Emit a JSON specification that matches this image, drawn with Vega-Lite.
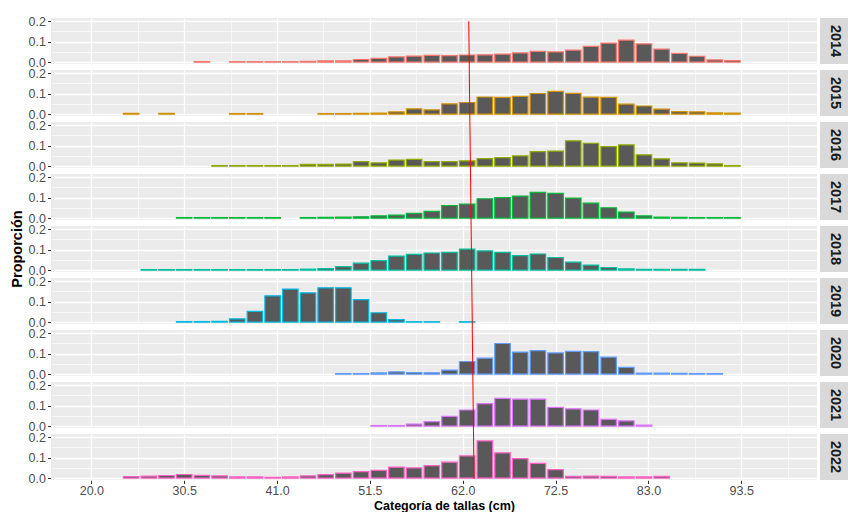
{
  "$schema": "https://vega.github.io/schema/vega-lite/v6.json",
  "background": "white",
  "padding": {"left": 3, "top": 15, "right": 0, "bottom": 0},
  "spacing": 3,
  "config": {"view": {"stroke": null}, "font": "Liberation Sans"},
  "data": {"values": [
    {"year":"2014","x":32.5,"p":0.003},{"year":"2014","x":36.5,"p":0.002},{"year":"2014","x":38.5,"p":0.002},{"year":"2014","x":40.5,"p":0.002},{"year":"2014","x":42.5,"p":0.002},{"year":"2014","x":44.5,"p":0.004},{"year":"2014","x":46.5,"p":0.006},{"year":"2014","x":48.5,"p":0.006},{"year":"2014","x":50.5,"p":0.013},{"year":"2014","x":52.5,"p":0.019},{"year":"2014","x":54.5,"p":0.026},{"year":"2014","x":56.5,"p":0.03},{"year":"2014","x":58.5,"p":0.033},{"year":"2014","x":60.5,"p":0.032},{"year":"2014","x":62.5,"p":0.035},{"year":"2014","x":64.5,"p":0.036},{"year":"2014","x":66.5,"p":0.039},{"year":"2014","x":68.5,"p":0.045},{"year":"2014","x":70.5,"p":0.053},{"year":"2014","x":72.5,"p":0.05},{"year":"2014","x":74.5,"p":0.059},{"year":"2014","x":76.5,"p":0.077},{"year":"2014","x":78.5,"p":0.093},{"year":"2014","x":80.5,"p":0.108},{"year":"2014","x":82.5,"p":0.089},{"year":"2014","x":84.5,"p":0.064},{"year":"2014","x":86.5,"p":0.043},{"year":"2014","x":88.5,"p":0.029},{"year":"2014","x":90.5,"p":0.011},{"year":"2014","x":92.5,"p":0.008},
    {"year":"2015","x":24.5,"p":0.004},{"year":"2015","x":28.5,"p":0.004},{"year":"2015","x":36.5,"p":0.003},{"year":"2015","x":38.5,"p":0.003},{"year":"2015","x":46.5,"p":0.003},{"year":"2015","x":48.5,"p":0.003},{"year":"2015","x":50.5,"p":0.004},{"year":"2015","x":52.5,"p":0.005},{"year":"2015","x":54.5,"p":0.011},{"year":"2015","x":56.5,"p":0.026},{"year":"2015","x":58.5,"p":0.021},{"year":"2015","x":60.5,"p":0.05},{"year":"2015","x":62.5,"p":0.057},{"year":"2015","x":64.5,"p":0.084},{"year":"2015","x":66.5,"p":0.082},{"year":"2015","x":68.5,"p":0.087},{"year":"2015","x":70.5,"p":0.101},{"year":"2015","x":72.5,"p":0.111},{"year":"2015","x":74.5,"p":0.102},{"year":"2015","x":76.5,"p":0.083},{"year":"2015","x":78.5,"p":0.082},{"year":"2015","x":80.5,"p":0.049},{"year":"2015","x":82.5,"p":0.04},{"year":"2015","x":84.5,"p":0.025},{"year":"2015","x":86.5,"p":0.012},{"year":"2015","x":88.5,"p":0.011},{"year":"2015","x":90.5,"p":0.006},{"year":"2015","x":92.5,"p":0.005},
    {"year":"2016","x":34.5,"p":0.003},{"year":"2016","x":36.5,"p":0.003},{"year":"2016","x":38.5,"p":0.003},{"year":"2016","x":40.5,"p":0.003},{"year":"2016","x":42.5,"p":0.003},{"year":"2016","x":44.5,"p":0.009},{"year":"2016","x":46.5,"p":0.009},{"year":"2016","x":48.5,"p":0.01},{"year":"2016","x":50.5,"p":0.022},{"year":"2016","x":52.5,"p":0.016},{"year":"2016","x":54.5,"p":0.03},{"year":"2016","x":56.5,"p":0.033},{"year":"2016","x":58.5,"p":0.022},{"year":"2016","x":60.5,"p":0.022},{"year":"2016","x":62.5,"p":0.026},{"year":"2016","x":64.5,"p":0.037},{"year":"2016","x":66.5,"p":0.042},{"year":"2016","x":68.5,"p":0.05},{"year":"2016","x":70.5,"p":0.071},{"year":"2016","x":72.5,"p":0.074},{"year":"2016","x":74.5,"p":0.124},{"year":"2016","x":76.5,"p":0.112},{"year":"2016","x":78.5,"p":0.096},{"year":"2016","x":80.5,"p":0.104},{"year":"2016","x":82.5,"p":0.055},{"year":"2016","x":84.5,"p":0.036},{"year":"2016","x":86.5,"p":0.016},{"year":"2016","x":88.5,"p":0.015},{"year":"2016","x":90.5,"p":0.011},{"year":"2016","x":92.5,"p":0.003},
    {"year":"2017","x":30.5,"p":0.003},{"year":"2017","x":32.5,"p":0.003},{"year":"2017","x":34.5,"p":0.003},{"year":"2017","x":36.5,"p":0.003},{"year":"2017","x":38.5,"p":0.003},{"year":"2017","x":40.5,"p":0.003},{"year":"2017","x":44.5,"p":0.003},{"year":"2017","x":46.5,"p":0.004},{"year":"2017","x":48.5,"p":0.005},{"year":"2017","x":50.5,"p":0.007},{"year":"2017","x":52.5,"p":0.011},{"year":"2017","x":54.5,"p":0.015},{"year":"2017","x":56.5,"p":0.023},{"year":"2017","x":58.5,"p":0.033},{"year":"2017","x":60.5,"p":0.062},{"year":"2017","x":62.5,"p":0.069},{"year":"2017","x":64.5,"p":0.095},{"year":"2017","x":66.5,"p":0.1},{"year":"2017","x":68.5,"p":0.108},{"year":"2017","x":70.5,"p":0.126},{"year":"2017","x":72.5,"p":0.121},{"year":"2017","x":74.5,"p":0.098},{"year":"2017","x":76.5,"p":0.074},{"year":"2017","x":78.5,"p":0.051},{"year":"2017","x":80.5,"p":0.03},{"year":"2017","x":82.5,"p":0.011},{"year":"2017","x":84.5,"p":0.005},{"year":"2017","x":86.5,"p":0.004},{"year":"2017","x":88.5,"p":0.003},{"year":"2017","x":90.5,"p":0.003},{"year":"2017","x":92.5,"p":0.003},
    {"year":"2018","x":26.5,"p":0.003},{"year":"2018","x":28.5,"p":0.003},{"year":"2018","x":30.5,"p":0.003},{"year":"2018","x":32.5,"p":0.003},{"year":"2018","x":34.5,"p":0.003},{"year":"2018","x":36.5,"p":0.003},{"year":"2018","x":38.5,"p":0.003},{"year":"2018","x":40.5,"p":0.003},{"year":"2018","x":42.5,"p":0.003},{"year":"2018","x":44.5,"p":0.005},{"year":"2018","x":46.5,"p":0.008},{"year":"2018","x":48.5,"p":0.017},{"year":"2018","x":50.5,"p":0.034},{"year":"2018","x":52.5,"p":0.047},{"year":"2018","x":54.5,"p":0.069},{"year":"2018","x":56.5,"p":0.077},{"year":"2018","x":58.5,"p":0.084},{"year":"2018","x":60.5,"p":0.087},{"year":"2018","x":62.5,"p":0.103},{"year":"2018","x":64.5,"p":0.094},{"year":"2018","x":66.5,"p":0.087},{"year":"2018","x":68.5,"p":0.071},{"year":"2018","x":70.5,"p":0.079},{"year":"2018","x":72.5,"p":0.062},{"year":"2018","x":74.5,"p":0.039},{"year":"2018","x":76.5,"p":0.025},{"year":"2018","x":78.5,"p":0.013},{"year":"2018","x":80.5,"p":0.006},{"year":"2018","x":82.5,"p":0.004},{"year":"2018","x":84.5,"p":0.004},{"year":"2018","x":86.5,"p":0.004},{"year":"2018","x":88.5,"p":0.004},
    {"year":"2019","x":30.5,"p":0.003},{"year":"2019","x":32.5,"p":0.003},{"year":"2019","x":34.5,"p":0.004},{"year":"2019","x":36.5,"p":0.016},{"year":"2019","x":38.5,"p":0.053},{"year":"2019","x":40.5,"p":0.129},{"year":"2019","x":42.5,"p":0.162},{"year":"2019","x":44.5,"p":0.143},{"year":"2019","x":46.5,"p":0.168},{"year":"2019","x":48.5,"p":0.168},{"year":"2019","x":50.5,"p":0.11},{"year":"2019","x":52.5,"p":0.046},{"year":"2019","x":54.5,"p":0.012},{"year":"2019","x":56.5,"p":0.002},{"year":"2019","x":58.5,"p":0.002},{"year":"2019","x":62.5,"p":0.002},
    {"year":"2020","x":48.5,"p":0.003},{"year":"2020","x":50.5,"p":0.003},{"year":"2020","x":52.5,"p":0.006},{"year":"2020","x":54.5,"p":0.011},{"year":"2020","x":56.5,"p":0.008},{"year":"2020","x":58.5,"p":0.007},{"year":"2020","x":60.5,"p":0.02},{"year":"2020","x":62.5,"p":0.062},{"year":"2020","x":64.5,"p":0.078},{"year":"2020","x":66.5,"p":0.15},{"year":"2020","x":68.5,"p":0.108},{"year":"2020","x":70.5,"p":0.115},{"year":"2020","x":72.5,"p":0.104},{"year":"2020","x":74.5,"p":0.111},{"year":"2020","x":76.5,"p":0.11},{"year":"2020","x":78.5,"p":0.083},{"year":"2020","x":80.5,"p":0.033},{"year":"2020","x":82.5,"p":0.005},{"year":"2020","x":84.5,"p":0.005},{"year":"2020","x":86.5,"p":0.004},{"year":"2020","x":88.5,"p":0.003},{"year":"2020","x":90.5,"p":0.003},
    {"year":"2021","x":52.5,"p":0.003},{"year":"2021","x":54.5,"p":0.003},{"year":"2021","x":56.5,"p":0.01},{"year":"2021","x":58.5,"p":0.022},{"year":"2021","x":60.5,"p":0.048},{"year":"2021","x":62.5,"p":0.079},{"year":"2021","x":64.5,"p":0.11},{"year":"2021","x":66.5,"p":0.136},{"year":"2021","x":68.5,"p":0.132},{"year":"2021","x":70.5,"p":0.132},{"year":"2021","x":72.5,"p":0.092},{"year":"2021","x":74.5,"p":0.085},{"year":"2021","x":76.5,"p":0.079},{"year":"2021","x":78.5,"p":0.033},{"year":"2021","x":80.5,"p":0.026},{"year":"2021","x":82.5,"p":0.005},
    {"year":"2022","x":24.5,"p":0.008},{"year":"2022","x":26.5,"p":0.01},{"year":"2022","x":28.5,"p":0.013},{"year":"2022","x":30.5,"p":0.018},{"year":"2022","x":32.5,"p":0.014},{"year":"2022","x":34.5,"p":0.011},{"year":"2022","x":36.5,"p":0.006},{"year":"2022","x":38.5,"p":0.006},{"year":"2022","x":40.5,"p":0.004},{"year":"2022","x":42.5,"p":0.006},{"year":"2022","x":44.5,"p":0.011},{"year":"2022","x":46.5,"p":0.017},{"year":"2022","x":48.5,"p":0.025},{"year":"2022","x":50.5,"p":0.032},{"year":"2022","x":52.5,"p":0.038},{"year":"2022","x":54.5,"p":0.054},{"year":"2022","x":56.5,"p":0.05},{"year":"2022","x":58.5,"p":0.061},{"year":"2022","x":60.5,"p":0.078},{"year":"2022","x":62.5,"p":0.109},{"year":"2022","x":64.5,"p":0.182},{"year":"2022","x":66.5,"p":0.124},{"year":"2022","x":68.5,"p":0.096},{"year":"2022","x":70.5,"p":0.072},{"year":"2022","x":72.5,"p":0.042},{"year":"2022","x":74.5,"p":0.009},{"year":"2022","x":76.5,"p":0.01},{"year":"2022","x":78.5,"p":0.009},{"year":"2022","x":80.5,"p":0.006},{"year":"2022","x":82.5,"p":0.006},{"year":"2022","x":84.5,"p":0.009},
    {"year":"2014","kind":"line","x":62.68,"xb":62.745,"ya":0.2,"yb":-0.024},
    {"year":"2015","kind":"line","x":62.735,"xb":62.805,"ya":0.231,"yb":-0.024},
    {"year":"2016","kind":"line","x":62.805,"xb":62.875,"ya":0.231,"yb":-0.024},
    {"year":"2017","kind":"line","x":62.875,"xb":62.945,"ya":0.231,"yb":-0.024},
    {"year":"2018","kind":"line","x":62.945,"xb":63.015,"ya":0.231,"yb":-0.024},
    {"year":"2019","kind":"line","x":63.015,"xb":63.085,"ya":0.231,"yb":-0.024},
    {"year":"2020","kind":"line","x":63.075,"xb":63.145,"ya":0.231,"yb":-0.024},
    {"year":"2021","kind":"line","x":63.145,"xb":63.215,"ya":0.231,"yb":-0.024},
    {"year":"2022","kind":"line","x":63.215,"xb":63.28,"ya":0.231,"yb":-0.003}
  ]},
  "hconcat": [
    {
      "data": {"values": [{"t": "Proporción"}]},
      "width": 12,
      "height": 462,
      "view": {"fill": null, "stroke": null},
      "mark": {"type": "text", "angle": 270, "dy": 9, "font": "Liberation Sans", "fontSize": 14.5, "fontWeight": "bold", "color": "#000000", "align": "center", "baseline": "middle"},
      "encoding": {"text": {"field": "t", "type": "nominal"}}
    },
    {
      "facet": {"row": {"field": "year", "type": "nominal", "header": {"labels": false, "title": null, "labelPadding": 0, "titlePadding": 0}}},
      "spacing": {"row": 6},
      "bounds": "flush",
      "spec": {
        "width": 766,
        "height": 46,
        "view": {"fill": "#EBEBEB", "stroke": null},
        "layer": [
          {
            "transform": [{"filter": "datum.kind != 'line'"}],
            "mark": {"type": "bar", "width": 15.5, "fill": "#595959", "strokeWidth": 1.2},
            "encoding": {
              "x": {"field": "x", "type": "quantitative",
                "scale": {"domain": [16, 101.5], "nice": false, "zero": false},
                "axis": {"title": "Categoría de tallas (cm)", "titleFont": "Liberation Sans", "titleFontSize": 12.5, "titleFontWeight": "bold", "titleColor": "#000000", "titlePadding": 2, "titleX": 393,
                  "values": [20, 30.5, 41, 51.5, 62, 72.5, 83, 93.5], "format": ".1f",
                  "labelOverlap": false, "labelFlush": false, "labelFont": "Liberation Sans", "labelFontSize": 12.5, "labelColor": "#4D4D4D", "labelPadding": 1,
                  "domain": false, "tickSize": 3.5, "tickColor": "#333333",
                  "gridColor": "#FFFFFF", "gridWidth": 1.3
                }
              },
              "y": {"field": "p", "type": "quantitative",
                "scale": {"domain": [-0.009, 0.216], "nice": false, "zero": false},
                "axis": {"title": null,
                  "values": [0, 0.1, 0.2], "format": ".1f",
                  "labelOverlap": false, "labelBound": false, "labelFlush": false, "labelFont": "Liberation Sans", "labelFontSize": 12.5, "labelColor": "#4D4D4D", "labelPadding": 2,
                  "domain": false, "tickSize": 3.5, "tickColor": "#333333",
                  "gridColor": "#FFFFFF", "gridWidth": 1.3
                }
              },
              "stroke": {"field": "year", "type": "nominal", "legend": null,
                "scale": {"domain": ["2014","2015","2016","2017","2018","2019","2020","2021","2022"],
                  "range": ["#F8766D","#D39200","#93AA00","#00BA38","#00C19F","#00B9E3","#619CFF","#DB72FB","#FF61C3"]}}
            }
          },
          {
            "transform": [{"filter": "datum.kind == 'line'"}],
            "mark": {"type": "rule", "color": "#FF0000", "strokeWidth": 1},
            "encoding": {
              "x": {"field": "x", "type": "quantitative",
                "axis": {"orient": "top", "title": null, "values": [25.25, 35.75, 46.25, 56.75, 67.25, 77.75, 88.25, 98.75], "labels": false, "ticks": false, "domain": false, "grid": true, "gridColor": "#FFFFFF", "gridWidth": 0.6}},
              "x2": {"field": "xb"},
              "y": {"field": "ya", "type": "quantitative",
                "axis": {"orient": "right", "title": null, "values": [0.05, 0.15], "labels": false, "ticks": false, "domain": false, "grid": true, "gridColor": "#FFFFFF", "gridWidth": 0.6}},
              "y2": {"field": "yb"}
            }
          }
        ],
        "resolve": {"axis": {"x": "independent", "y": "independent"}}
      }
    },
    {
      "facet": {"row": {"field": "year", "type": "nominal", "header": {"labels": false, "title": null}}},
      "spacing": {"row": 6},
      "bounds": "flush",
      "spec": {
        "width": 30,
        "height": 46,
        "view": {"fill": "#D9D9D9", "stroke": null},
        "transform": [{"filter": "datum.kind == 'line'"}],
        "mark": {"type": "text", "angle": 90, "font": "Liberation Sans", "fontSize": 14.5, "fontWeight": "bold", "color": "#1A1A1A", "align": "center", "baseline": "middle"},
        "encoding": {"text": {"field": "year", "type": "nominal"}}
      }
    }
  ]
}
